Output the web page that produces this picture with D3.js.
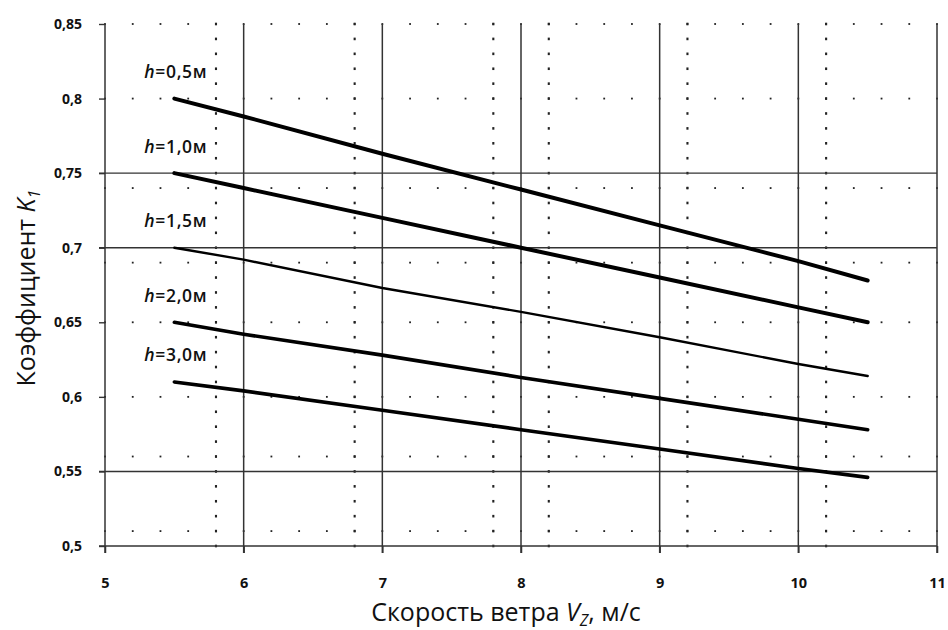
<!DOCTYPE html>
<html>
<head>
<meta charset="utf-8">
<script src="https://cdn.jsdelivr.net/npm/d3@7/dist/d3.min.js"></script>
<style>
  html, body { margin: 0; padding: 0; background: #fff; }
  svg { display: block; }
  text { font-family: "Open Sans", "Noto Sans", sans-serif; fill: #111; }
</style>
</head>
<body>
<svg id="chart" width="948" height="630"></svg>
<script>
// Wind speed, m/s
const speeds = [5.5, 6, 7, 8, 9, 10, 10.5];

// Coefficient K1 for each height above the surface
const heights = ["0,5", "1,0", "1,5", "2,0", "3,0"];
const k1_h05 = [0.800, 0.788, 0.763, 0.739, 0.715, 0.691, 0.678];
const k1_h10 = [0.750, 0.740, 0.720, 0.700, 0.680, 0.660, 0.650];
const k1_h15 = [0.700, 0.692, 0.673, 0.657, 0.640, 0.622, 0.614];
const k1_h20 = [0.650, 0.642, 0.628, 0.613, 0.599, 0.585, 0.578];
const k1_h30 = [0.610, 0.604, 0.591, 0.578, 0.565, 0.552, 0.546];

// Axis ticks and grid positions
const xTicks = [5, 6, 7, 8, 9, 10, 11];
const yTicks = [0.5, 0.55, 0.6, 0.65, 0.7, 0.75, 0.8, 0.85];
const xMajorGrid = [6, 7, 8, 9, 10, 11];
const xMinorGrid = [5.8, 6.8, 7.8, 8.2, 9.2, 10.2];
const yMajorGrid = [0.55, 0.7, 0.75];
const yMinorGrid = [0.51, 0.56, 0.6, 0.65, 0.69, 0.74, 0.8, 0.85];

const series = [k1_h05, k1_h10, k1_h15, k1_h20, k1_h30];
const widths = [4, 4, 2.4, 3.6, 3.6];

const svg = d3.select("#chart");
const m = { left: 105, right: 937, top: 24, bottom: 546 };

const x = d3.scaleLinear().domain([5, 11]).range([m.left, m.right]);
const y = d3.scaleLinear().domain([0.5, 0.85]).range([m.bottom, m.top]);

const grid = svg.append("g");

// dotted rows: small dots every 0.2 m/s
const dotX = d3.range(5, 11.0001, 0.2);
yMinorGrid.forEach(v => {
  grid.selectAll(null).data(dotX).join("rect")
    .attr("x", d => x(d) - 0.9).attr("y", y(v) - 0.9)
    .attr("width", 1.8).attr("height", 1.8)
    .attr("fill", "#222");
});

// dotted columns: dots every 0.01
const dotY = d3.range(0.5, 0.8501, 0.01);
xMinorGrid.forEach(v => {
  grid.selectAll(null).data(dotY).join("rect")
    .attr("x", x(v) - 1).attr("y", d => y(d) - 1.3)
    .attr("width", 2.1).attr("height", 2.6)
    .attr("fill", "#222");
});

// solid grid
grid.selectAll(null).data(yMajorGrid).join("line")
  .attr("x1", m.left - 6).attr("x2", m.right)
  .attr("y1", d => y(d)).attr("y2", d => y(d))
  .attr("stroke", "#333").attr("stroke-width", 1.4);

grid.selectAll(null).data(xMajorGrid).join("line")
  .attr("x1", d => x(d)).attr("x2", d => x(d))
  .attr("y1", m.top).attr("y2", m.bottom + 7)
  .attr("stroke", "#333").attr("stroke-width", 1.5);

// axes
const xAxis = d3.axisBottom(x).tickValues(xTicks).tickSize(7).tickPadding(25)
  .tickFormat(d3.format("d"));
const gx = svg.append("g").attr("transform", `translate(0,${m.bottom})`).call(xAxis);
gx.select(".domain").remove();
gx.append("line").attr("x1", m.left - 6).attr("x2", m.right)
  .attr("stroke", "#333").attr("stroke-width", 1.5);
gx.selectAll(".tick line").attr("stroke", "#333").attr("stroke-width", 1.5);
gx.selectAll(".tick text").attr("font-size", 14.5).attr("font-weight", 700)
  .attr("fill", "#111").attr("font-family", "'Open Sans', sans-serif");

const yAxis = d3.axisLeft(y).tickValues(yTicks).tickSize(6).tickPadding(17)
  .tickFormat(d => d3.format(".2~f")(d).replace(".", ","));
const gy = svg.append("g").attr("transform", `translate(${m.left},0)`).call(yAxis);
gy.select(".domain").remove();
gy.append("line").attr("y1", m.top).attr("y2", m.bottom + 7)
  .attr("stroke", "#333").attr("stroke-width", 1.5);
gy.selectAll(".tick line").attr("stroke", "#333").attr("stroke-width", 1.4);
gy.selectAll(".tick text").attr("font-size", 14).attr("font-weight", 700)
  .attr("fill", "#111").attr("font-family", "'Open Sans', sans-serif");

// curves
const line = d3.line().x((d, i) => x(speeds[i])).y(d => y(d));
svg.append("g").selectAll("path").data(series).join("path")
  .attr("d", d => line(d))
  .attr("fill", "none").attr("stroke", "#000")
  .attr("stroke-width", (d, i) => widths[i])
  .attr("stroke-linecap", "round");

// height labels
const lbl = svg.append("g").selectAll("text").data(series).join("text")
  .attr("x", x(speeds[0]) + 33)
  .attr("y", d => y(d[0]) - 20.5)
  .attr("text-anchor", "end")
  .attr("font-size", 17.5).attr("font-weight", 600)
  .attr("letter-spacing", 0.7);
lbl.append("tspan").attr("font-style", "italic").text("h");
lbl.append("tspan").text((d, i) => "=" + heights[i] + "м");

// axis titles
const xt = svg.append("text")
  .attr("x", 506).attr("y", 621)
  .attr("text-anchor", "middle").attr("font-size", 25);
xt.append("tspan").text("Скорость ветра ");
xt.append("tspan").attr("font-style", "italic").text("V");
xt.append("tspan").attr("font-style", "italic").attr("font-size", 16).attr("dy", 5).text("Z");
xt.append("tspan").attr("dy", -5).text(", м/с");

const yt = svg.append("text")
  .attr("transform", "translate(35,288) rotate(-90)")
  .attr("text-anchor", "middle").attr("font-size", 25);
yt.append("tspan").text("Коэффициент ");
yt.append("tspan").attr("font-style", "italic").text("K");
yt.append("tspan").attr("font-style", "italic").attr("font-size", 16).attr("dy", 5).text("1");
</script>
</body>
</html>
